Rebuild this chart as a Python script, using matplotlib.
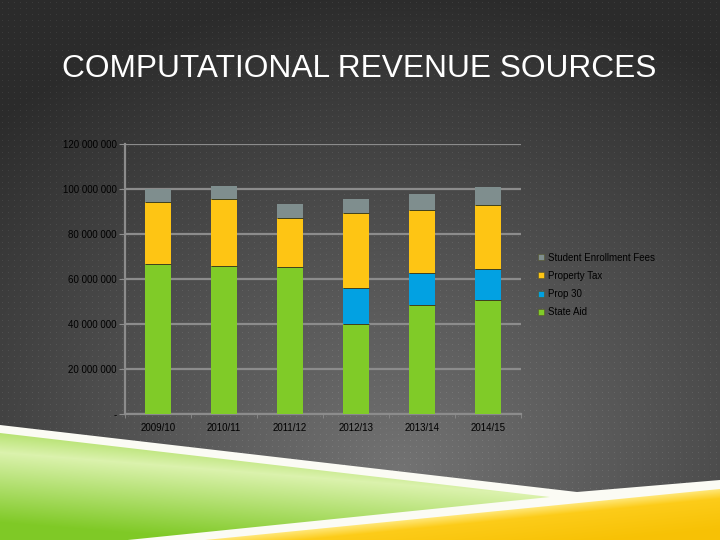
import numpy as np
import matplotlib
matplotlib.use("Agg")
import matplotlib.pyplot as plt
from matplotlib.patches import Polygon
from matplotlib.lines import Line2D

plt.rcParams['font.family'] = ['Liberation Sans', 'DejaVu Sans']

# ---------------- data ----------------
years = ['2009/10', '2010/11', '2011/12', '2012/13', '2013/14', '2014/15']
state_aid = [66_700_000, 66_000_000, 65_300_000, 40_300_000, 48_400_000, 50_900_000]
prop_30 = [0, 0, 0, 15_700_000, 14_300_000, 13_500_000]
property_tax = [27_800_000, 29_600_000, 21_800_000, 33_300_000, 28_000_000, 28_500_000]
enrollment_fees = [5_600_000, 6_000_000, 6_500_000, 6_400_000, 7_300_000, 8_300_000]
series_names = ['State Aid', 'Prop 30', 'Property Tax', 'Student Enrollment Fees']
y_ticks = [0, 20_000_000, 40_000_000, 60_000_000, 80_000_000, 100_000_000, 120_000_000]
y_tick_labels = ['-', '20 000 000', '40 000 000', '60 000 000', '80 000 000',
                 '100 000 000', '120 000 000']
title = 'COMPUTATIONAL REVENUE SOURCES'

colors = {'State Aid': '#80cb28', 'Prop 30': '#02a1e2',
          'Property Tax': '#fec514', 'Student Enrollment Fees': '#7f8e8e'}

W, H = 720, 540
fig = plt.figure(figsize=(7.2, 5.4), dpi=100)

# ---------------- background ----------------
bg = fig.add_axes([0, 0, 1, 1])
bg.set_axis_off()
yy, xx = np.mgrid[0:H, 0:W]
d = np.sqrt(((xx - 400) / 1.0) ** 2 + ((yy - 470) / 0.8) ** 2)
v = 115 - 72 * np.clip(d / 600, 0, 1)
dots = (xx % 6 == 2) & (yy % 6 == 2)
v = v + dots * 16
img = np.clip(np.dstack([v, v, v]) / 255.0, 0, 1)
bg.imshow(img, extent=(0, W, H, 0), interpolation='nearest', aspect='auto', zorder=0)
bg.set_xlim(0, W)
bg.set_ylim(H, 0)

# white band
white = Polygon([(0, 425), (577, 492), (720, 480), (720, 545), (0, 545)],
                closed=True, facecolor='#fbfbf4', edgecolor='none', zorder=1)
bg.add_patch(white)

# green triangle with gradient
green_poly = Polygon([(0, 433), (550, 497), (0, 553)], closed=True,
                     facecolor='none', edgecolor='none', zorder=2)
bg.add_patch(green_poly)
yh = 452 + 0.08 * xx
t = (yy - yh)
light = np.array([0.86, 0.95, 0.68])
upper = np.array([0.70, 0.88, 0.42])
lower = np.array([0.50, 0.79, 0.15])
a_up = np.clip(-t / 22, 0, 1)[..., None]
a_lo = np.clip(t / 70, 0, 1)[..., None]
gimg = light * (1 - a_up) + upper * a_up
gimg = gimg * (1 - a_lo) + lower * a_lo
gim = bg.imshow(gimg, extent=(0, W, H, 0), interpolation='bilinear', aspect='auto', zorder=2)
gim.set_clip_path(green_poly)

# yellow band with gradient
yel_poly = Polygon([(185, 542), (720, 489), (720, 545), (185, 545)], closed=True,
                   facecolor='none', edgecolor='none', zorder=2)
bg.add_patch(yel_poly)
ytop = 542 - 0.0991 * (xx - 185)
ty = yy - ytop
ylight = np.array([1.0, 0.90, 0.45])
ymid = np.array([0.99, 0.80, 0.10])
ydark = np.array([0.97, 0.76, 0.02])
a1 = np.clip(ty / 9, 0, 1)[..., None]
a2 = np.clip((ty - 9) / 30, 0, 1)[..., None]
yimg = ylight * (1 - a1) + ymid * a1
yimg = yimg * (1 - a2) + ydark * a2
yim = bg.imshow(yimg, extent=(0, W, H, 0), interpolation='bilinear', aspect='auto', zorder=2)
yim.set_clip_path(yel_poly)

# ---------------- title ----------------
fig.text(358.8 / W, 1 - 77.3 / H, title, ha='center', va='baseline',
         color='white', fontsize=22.8)

# ---------------- chart ----------------
ax = fig.add_axes([125 / W, 1 - 414.3 / H, 396 / W, 270 / H])
ax.patch.set_alpha(0)
x = np.arange(len(years))
width = 0.39
bottom = np.zeros(len(years))
series = [state_aid, prop_30, property_tax, enrollment_fees]
for name, vals in zip(series_names, series):
    vals = np.array(vals, dtype=float)
    ax.bar(x, vals, width, bottom=bottom, color=colors[name], linewidth=0, zorder=3)
    top = bottom + vals
    if name != 'Student Enrollment Fees':
        m = vals > 0
        ax.hlines(top[m], x[m] - width / 2, x[m] + width / 2, color='#3f3f1c',
                  lw=0.7, zorder=4)
    bottom = top

ax.set_xlim(-0.5, len(years) - 0.5)
ax.set_ylim(0, 120_000_000)
ax.set_yticks(y_ticks)
ax.set_yticklabels(y_tick_labels)
ax.set_xticks(x)
ax.set_xticklabels(years)
ax.set_xticks(np.arange(len(years) + 1) - 0.5, minor=True)
ax.yaxis.grid(True, color='#8c8c8c', lw=1.6, zorder=1)
ax.set_axisbelow(True)
for s in ['top', 'right']:
    ax.spines[s].set_visible(False)
for s in ['left', 'bottom']:
    ax.spines[s].set_color('#8c8c8c')
    ax.spines[s].set_linewidth(1.6)
ax.tick_params(axis='y', length=4, color='#8c8c8c', labelsize=7, labelcolor='black', pad=2)
ax.tick_params(axis='x', which='major', length=0, labelsize=7, labelcolor='black', pad=6)
ax.tick_params(axis='x', which='minor', length=3, color='#8c8c8c')

handles = []
for name in series_names[::-1]:
    c = colors[name]
    handles.append(Line2D([], [], marker='s', ls='', markersize=4.5,
                          markerfacecolor=c, markeredgecolor='#55552a',
                          markeredgewidth=0.4, label=name))
fig.legend(handles=handles, loc='center left', bbox_to_anchor=(537 / W, 1 - 285 / H),
           frameon=False, fontsize=7, handlelength=0.8, handletextpad=0.3,
           labelspacing=0.85, borderpad=0, borderaxespad=0, labelcolor='black')

fig.savefig('out.png', dpi=100)
